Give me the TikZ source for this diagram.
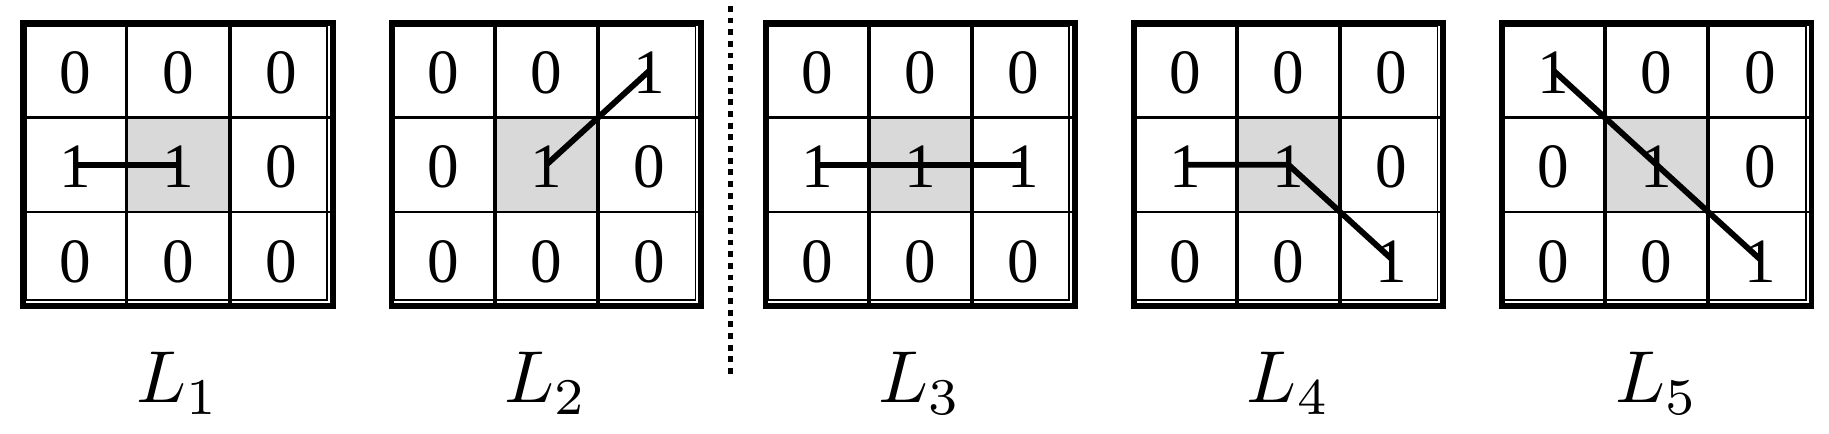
\documentclass[tikz,border=0pt]{standalone}
\usepackage{fontspec}
\setmainfont{Liberation Serif}
\begin{document}
\begin{tikzpicture}[x=1pt,y=-1pt,
  digit/.style={font=\fontsize{54}{54}\selectfont, inner sep=0pt},
  lab/.style={inner sep=0pt},
  frame/.style={line width=5pt},
  inframe/.style={line width=1.5pt},
  vline/.style={line width=3.2pt},
  hline/.style={line width=2pt},
  seg/.style={line width=5pt},
  mid/.style={fill=black!15}]
\useasboundingbox (0,0) rectangle (1565,370.5);
\def\cw{88.33}\def\ch{80.67}
\foreach \g/\x/\digs in {1/20/{0,0,0,1,1,0,0,0,0},2/335/{0,0,1,0,1,0,0,0,0},3/655/{0,0,0,1,1,1,0,0,0},4/970/{0,0,0,1,1,0,0,0,1},5/1285/{1,0,0,0,1,0,0,0,1}}{
  \fill[mid] (\x+\cw,20+\ch) rectangle (\x+2*\cw,20+2*\ch);
  \foreach \d [count=\k from 0] in \digs {
    \pgfmathtruncatemacro\r{int(\k/3)}
    \pgfmathtruncatemacro\c{mod(\k,3)}
    \node[digit] (g\g-\r-\c) at (\x+\c*\cw+0.5*\cw, 20+\r*\ch+0.5*\ch+2) {\d};
    \coordinate (p\g-\r-\c) at (\x+\c*\cw+0.5*\cw, 20+\r*\ch+0.5*\ch);
  }
  \draw[hline] (\x,20+\ch) -- (\x+265,20+\ch);
  \draw[hline] (\x,20+2*\ch) -- (\x+265,20+2*\ch);
  \draw[vline] (\x+\cw,20) -- (\x+\cw,262);
  \draw[vline] (\x+2*\cw,20) -- (\x+2*\cw,262);
  \draw[inframe] (\x+2,22) rectangle (\x+260,257);
  \draw[frame] (\x,20) rectangle (\x+265,262);
  \node[lab] (L\g) at (\x+132.5,328) {\scalebox{6.3}{$L_{\g}$}};
}
\draw[seg] (p1-1-0) -- (p1-1-1);
\draw[seg] (p2-1-1) -- (p2-0-2);
\draw[seg] (p3-1-0) -- (p3-1-2);
\draw[seg] (p4-1-0) -- (p4-1-1) -- (p4-2-2);
\draw[seg] (p5-0-0) -- (p5-2-2);
\coordinate (dt) at (625,5);
\coordinate (db) at (625,322);
\draw[line width=4.5pt, dash pattern=on 5pt off 5pt] (dt) -- (db);
\end{tikzpicture}
\end{document}
